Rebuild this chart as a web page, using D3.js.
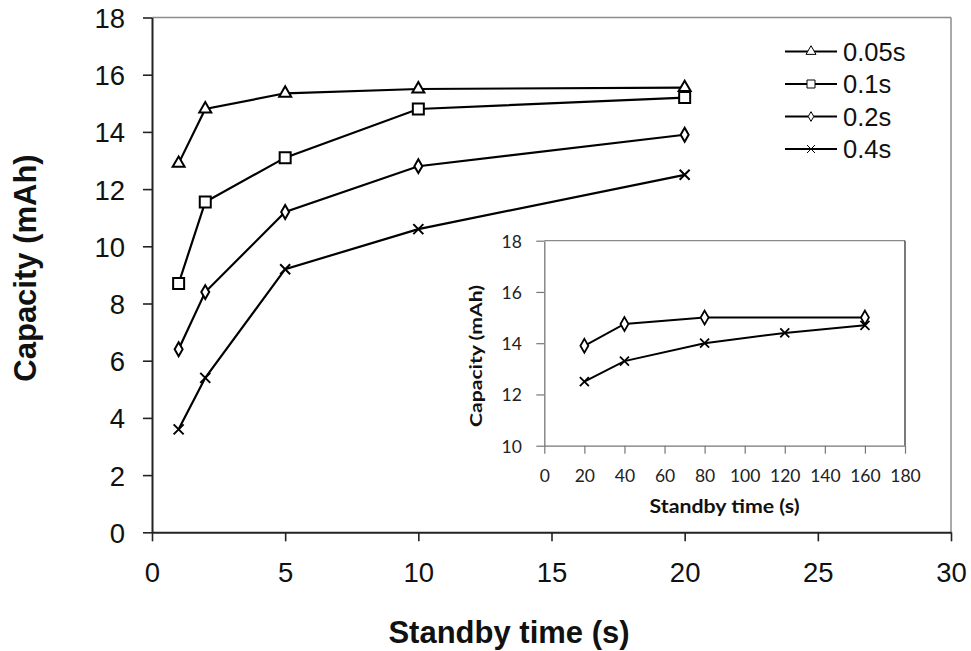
<!DOCTYPE html>
<html>
<head>
<meta charset="utf-8">
<script src="https://cdnjs.cloudflare.com/ajax/libs/d3/7.8.5/d3.min.js"></script>
<style>
  html, body { margin: 0; padding: 0; background: #fff; }
  svg { display: block; }
</style>
</head>
<body>
<svg id="chart" width="971" height="651"></svg>
<script>
// ---------- data ----------
const standbyTimes = [1, 2, 5, 10, 20];
const seriesNames = ["0.05s", "0.1s", "0.2s", "0.4s"];
const cap005 = [12.9, 14.8, 15.35, 15.5, 15.55];
const cap01  = [8.7, 11.55, 13.1, 14.8, 15.2];
const cap02  = [6.4, 8.4, 11.2, 12.8, 13.9];
const cap04  = [3.6, 5.4, 9.2, 10.6, 12.5];
const seriesMarkers = ["triangle", "square", "diamond", "cross"];

const xTicksMain = [0, 5, 10, 15, 20, 25, 30];
const yTicksMain = [0, 2, 4, 6, 8, 10, 12, 14, 16, 18];

// inset
const insetTimesA = [20, 40, 80, 160];
const insetCapA   = [13.9, 14.75, 15.0, 15.0];
const insetTimesB = [20, 40, 80, 120, 160];
const insetCapB   = [12.5, 13.3, 14.0, 14.4, 14.7];
const xTicksInset = [0, 20, 40, 60, 80, 100, 120, 140, 160, 180];
const yTicksInset = [10, 12, 14, 16, 18];

const svg = d3.select("#chart");

// ---------- marker drawing ----------
function drawMarker(g, type, x, y, size, sw) {
  if (type === "cross") {
    const h = size / 2;
    g.append("path")
      .attr("d", `M${x-h},${y-h}L${x+h},${y+h}M${x-h},${y+h}L${x+h},${y-h}`)
      .attr("stroke", "#000").attr("stroke-width", sw).attr("fill", "none");
  } else {
    const sym = type === "triangle" ? d3.symbolTriangle
              : type === "square" ? d3.symbolSquare
              : d3.symbolDiamond;
    const area = type === "square" ? size * size
               : type === "triangle" ? size * size * 0.433
               : size * size * 0.55;
    g.append("path")
      .attr("d", d3.symbol().type(sym).size(area)())
      .attr("transform", `translate(${x},${y})`)
      .attr("stroke", "#000").attr("stroke-width", sw).attr("fill", "#fff");
  }
}

// ---------- main chart ----------
const M = { left: 152, right: 951, top: 17.5, bottom: 532.3 };
const x = d3.scaleLinear().domain([0, 30]).range([M.left, M.right]);
const y = d3.scaleLinear().domain([0, 18]).range([M.bottom, M.top]);

const main = svg.append("g");

// frame top/right (grey)
main.append("line").attr("x1", M.left).attr("x2", M.right).attr("y1", M.top).attr("y2", M.top)
  .attr("stroke", "#8c8c8c").attr("stroke-width", 1.5);
main.append("line").attr("x1", M.right).attr("x2", M.right).attr("y1", M.top).attr("y2", M.bottom)
  .attr("stroke", "#8c8c8c").attr("stroke-width", 1.5);

const xAxis = main.append("g").attr("transform", `translate(0,${M.bottom})`)
  .call(d3.axisBottom(x).tickValues(xTicksMain).tickSize(9).tickPadding(8).tickSizeOuter(0));
const yAxis = main.append("g").attr("transform", `translate(${M.left},0)`)
  .call(d3.axisLeft(y).tickValues(yTicksMain).tickSize(9).tickPadding(18).tickSizeOuter(0));
[xAxis, yAxis].forEach(a => {
  a.select(".domain").attr("stroke", "#222").attr("stroke-width", 2);
  a.selectAll(".tick line").attr("stroke", "#222").attr("stroke-width", 1.6);
  a.selectAll(".tick text").attr("font-family", "Liberation Sans, Arial, sans-serif")
    .attr("font-size", 27.5).attr("fill", "#111");
});
xAxis.selectAll(".tick text").attr("y", 49.5).attr("dy", 0);
yAxis.selectAll(".tick text").attr("dy", "0.36em");

main.append("text").attr("x", 509).attr("y", 643).attr("text-anchor", "middle")
  .attr("font-family", "Liberation Sans, Arial, sans-serif").attr("font-weight", "bold")
  .attr("font-size", 31).attr("fill", "#111").text("Standby time (s)");
main.append("text").attr("transform", "translate(36,268) rotate(-90)").attr("text-anchor", "middle")
  .attr("font-family", "Liberation Sans, Arial, sans-serif").attr("font-weight", "bold")
  .attr("font-size", 31).attr("fill", "#111").text("Capacity (mAh)");

const allSeries = [cap005, cap01, cap02, cap04];
const line = d3.line().x(d => x(d[0])).y(d => y(d[1]));
allSeries.forEach((vals, i) => {
  const pts = standbyTimes.map((t, j) => [t, vals[j]]);
  main.append("path").attr("d", line(pts)).attr("fill", "none")
    .attr("stroke", "#000").attr("stroke-width", 2.2);
});
allSeries.forEach((vals, i) => {
  const sz = seriesMarkers[i] === "diamond" ? 10 : seriesMarkers[i] === "cross" ? 10 : seriesMarkers[i] === "triangle" ? 12 : 11;
  standbyTimes.forEach((t, j) => drawMarker(main, seriesMarkers[i], x(t), y(vals[j]), sz, 2));
});

// legend
const legend = main.append("g");
const legY0 = 51.5, legDY = 32.5;
seriesNames.forEach((name, i) => {
  const yy = legY0 + i * legDY;
  legend.append("line").attr("x1", 785).attr("x2", 837).attr("y1", yy).attr("y2", yy)
    .attr("stroke", "#000").attr("stroke-width", 2);
  const sz = seriesMarkers[i] === "diamond" ? 7 : seriesMarkers[i] === "triangle" ? 10 : 8;
  drawMarker(legend, seriesMarkers[i], 811, yy, sz, 1);
  legend.append("text").attr("x", 843).attr("y", yy).attr("dy", "0.36em")
    .attr("font-family", "Liberation Sans, Arial, sans-serif").attr("font-size", 25.5)
    .attr("fill", "#111").text(name);
});

// ---------- inset ----------
const I = { left: 544.3, right: 905, top: 240.7, bottom: 445.7 };
const xi = d3.scaleLinear().domain([0, 180]).range([I.left, I.right]);
const yi = d3.scaleLinear().domain([10, 18]).range([I.bottom, I.top]);
const inset = svg.append("g");

inset.append("line").attr("x1", I.left).attr("x2", I.right).attr("y1", I.top).attr("y2", I.top)
  .attr("stroke", "#8a8a8a").attr("stroke-width", 1.2);
inset.append("line").attr("x1", I.right).attr("x2", I.right).attr("y1", I.top).attr("y2", I.bottom)
  .attr("stroke", "#333").attr("stroke-width", 1.3);

const xiAxis = inset.append("g").attr("transform", `translate(0,${I.bottom})`)
  .call(d3.axisBottom(xi).tickValues(xTicksInset).tickSize(8).tickPadding(8).tickSizeOuter(0));
const yiAxis = inset.append("g").attr("transform", `translate(${I.left},0)`)
  .call(d3.axisLeft(yi).tickValues(yTicksInset).tickSize(8).tickPadding(14.5).tickSizeOuter(0));
[xiAxis, yiAxis].forEach(a => {
  a.select(".domain").attr("stroke", "#777").attr("stroke-width", 1.3);
  a.selectAll(".tick line").attr("stroke", "#777").attr("stroke-width", 1.2);
  a.selectAll(".tick text").attr("font-family", "Lato, sans-serif")
    .attr("font-size", 17.5).attr("fill", "#222");
});
xiAxis.selectAll(".tick text").attr("y", 36).attr("dy", 0);
yiAxis.selectAll(".tick text").attr("dy", "0.36em");

inset.append("text").attr("x", 724.5).attr("y", 513).attr("text-anchor", "middle")
  .attr("font-family", "Lato, sans-serif").attr("font-weight", "bold")
  .attr("font-size", 18).attr("textLength", 150).attr("lengthAdjust", "spacingAndGlyphs")
  .attr("fill", "#111").text("Standby time (s)");
inset.append("text").attr("transform", "translate(482,356) rotate(-90)").attr("text-anchor", "middle")
  .attr("font-family", "Lato, sans-serif").attr("font-weight", "bold")
  .attr("font-size", 17).attr("textLength", 142).attr("lengthAdjust", "spacingAndGlyphs")
  .attr("fill", "#111").text("Capacity (mAh)");

const linei = d3.line().x(d => xi(d[0])).y(d => yi(d[1]));
const ptsA = insetTimesA.map((t, j) => [t, insetCapA[j]]);
const ptsB = insetTimesB.map((t, j) => [t, insetCapB[j]]);
inset.append("path").attr("d", linei(ptsA)).attr("fill", "none").attr("stroke", "#000").attr("stroke-width", 2);
inset.append("path").attr("d", linei(ptsB)).attr("fill", "none").attr("stroke", "#000").attr("stroke-width", 2);
ptsA.forEach(p => drawMarker(inset, "diamond", xi(p[0]), yi(p[1]), 10, 1.8));
ptsB.forEach(p => drawMarker(inset, "cross", xi(p[0]), yi(p[1]), 9, 1.8));
</script>
</body>
</html>
